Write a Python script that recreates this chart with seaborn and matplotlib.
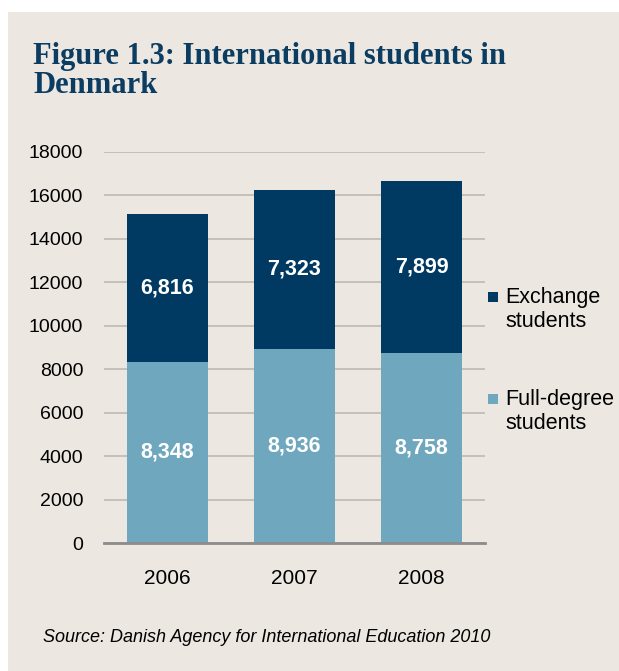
import matplotlib
matplotlib.use("Agg")
import matplotlib.pyplot as plt
from matplotlib.patches import Rectangle
import seaborn as sns
import pandas as pd

years = ["2006", "2007", "2008"]
full_degree = [8348, 8936, 8758]
exchange = [6816, 7323, 7899]
y_ticks = [0, 2000, 4000, 6000, 8000, 10000, 12000, 14000, 16000, 18000]
series_labels = ["Exchange\nstudents", "Full-degree\nstudents"]

BG = "#ECE7E0"
DARK = "#003A63"
LIGHT = "#6FA7BE"
TITLE = "#0B3D62"
W, H = 619, 671

sns.set_theme(style="white")
plt.rcParams["font.family"] = ["Liberation Sans", "DejaVu Sans"]

df = pd.DataFrame({"year": years, "full": full_degree, "exchange": exchange})
df["total"] = df["full"] + df["exchange"]

fig = plt.figure(figsize=(W / 100, H / 100), dpi=100)
fig.patch.set_facecolor("white")
# beige panel behind the content
fig.patches.append(Rectangle((8 / W, 0), 1, 1 - 12 / H,
                             transform=fig.transFigure, facecolor=BG,
                             edgecolor="none", zorder=-10))

ax = fig.add_axes([104 / W, 1 - 543 / H, 381 / W, 391 / H])
ax.patch.set_alpha(0)

# stacked bars: totals (exchange segment on top) then full-degree below
sns.barplot(data=df, x="year", y="total", color=DARK, saturation=1,
            width=0.645, linewidth=0, ax=ax, zorder=3)
sns.barplot(data=df, x="year", y="full", color=LIGHT, saturation=1,
            width=0.645, linewidth=0, ax=ax, zorder=4)

for i, (f, e) in enumerate(zip(full_degree, exchange)):
    ax.text(i, f / 2, f"{f:,}", ha="center", va="center", color="white",
            fontsize=15.5, fontweight="bold", zorder=5)
    ax.text(i, f + e / 2, f"{e:,}", ha="center", va="center", color="white",
            fontsize=15.5, fontweight="bold", zorder=5)

ax.set_xlim(-0.5, 2.5)
ax.set_ylim(0, 18000)
ax.set_yticks(y_ticks)
ax.set_yticklabels([str(t) for t in y_ticks])
ax.yaxis.grid(True, color="#BDB9B3", linewidth=1.2, zorder=0)
ax.set_axisbelow(True)
for s in ["top", "right", "left"]:
    ax.spines[s].set_visible(False)
ax.spines["bottom"].set_color("#8C8C8C")
ax.spines["bottom"].set_linewidth(2)
ax.spines["bottom"].set_zorder(6)
ax.tick_params(axis="both", length=0, colors="black")
ax.tick_params(axis="x", labelsize=15, pad=19)
ax.tick_params(axis="y", labelsize=14, pad=15)
ax.set_xlabel("")
ax.set_ylabel("")

# legend: colour squares with two-line labels to the right of the plot
for color, label, yc in zip([DARK, LIGHT], series_labels, [309.5, 411.5]):
    sq_top = yc - 17.5
    fig.patches.append(Rectangle((488 / W, 1 - (sq_top + 10) / H),
                                 10 / W, 10 / H, transform=fig.transFigure,
                                 facecolor=color, edgecolor="none"))
    fig.text(505 / W, 1 - yc / H, label, fontsize=15.5, color="black",
             va="center", ha="left", linespacing=1.15)

fig.text(33 / W, 1 - 93 / H,
         "Figure 1.3: International students in\nDenmark",
         fontsize=22, fontweight="bold", color=TITLE,
         family=["Liberation Serif", "DejaVu Serif"], va="baseline",
         linespacing=0.98)

fig.text(43 / W, 1 - 637 / H,
         "Source: Danish Agency for International Education 2010",
         fontsize=13, style="italic", color="black", va="center")

fig.savefig("out.png", dpi=100, facecolor=fig.get_facecolor())
